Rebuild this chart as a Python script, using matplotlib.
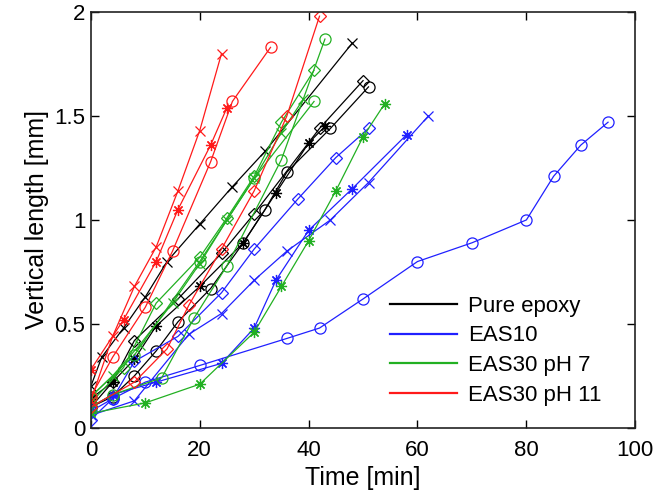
import matplotlib
matplotlib.use("Agg")
import matplotlib.pyplot as plt
from matplotlib.lines import Line2D

# ── data (time in min, vertical length in mm) ──
# Pure epoxy
epoxy_x_t = [0, 2, 6, 10, 14, 20, 26, 32, 48]
epoxy_x_v = [0.20, 0.34, 0.48, 0.63, 0.80, 0.98, 1.16, 1.33, 1.85]
epoxy_star_t = [0, 4, 8, 12, 20, 28, 34, 40, 43]
epoxy_star_v = [0.14, 0.22, 0.33, 0.49, 0.68, 0.89, 1.13, 1.37, 1.45]
epoxy_dia_t = [0, 4, 8, 16, 24, 30, 42, 50]
epoxy_dia_v = [0.10, 0.22, 0.42, 0.62, 0.84, 1.03, 1.44, 1.67]
epoxy_o_t = [0, 4, 8, 12, 16, 22, 28, 32, 36, 44, 51]
epoxy_o_v = [0.10, 0.15, 0.25, 0.37, 0.51, 0.67, 0.89, 1.05, 1.23, 1.44, 1.64]

# EAS10
eas10_o_t = [0, 4, 10, 20, 36, 42, 50, 60, 70, 80, 85, 90, 95]
eas10_o_v = [0.08, 0.14, 0.22, 0.30, 0.43, 0.48, 0.62, 0.80, 0.89, 1.00, 1.21, 1.36, 1.47]
eas10_dia_t = [0, 4, 8, 16, 24, 30, 38, 45, 51]
eas10_dia_v = [0.04, 0.14, 0.32, 0.44, 0.65, 0.86, 1.10, 1.30, 1.44]
eas10_x_t = [0, 8, 18, 24, 30, 36, 44, 51, 62]
eas10_x_v = [0.06, 0.13, 0.45, 0.55, 0.71, 0.85, 1.00, 1.18, 1.50]
eas10_star_t = [0, 4, 12, 24, 30, 34, 40, 48, 58]
eas10_star_v = [0.10, 0.16, 0.22, 0.31, 0.48, 0.71, 0.95, 1.15, 1.41]

# EAS30 pH 7
ph7_star_t = [0, 10, 20, 30, 35, 40, 45, 50, 54]
ph7_star_v = [0.07, 0.12, 0.21, 0.46, 0.68, 0.90, 1.14, 1.40, 1.56]
ph7_o1_t = [0, 4, 13, 19, 25, 35, 43]
ph7_o1_v = [0.10, 0.16, 0.24, 0.53, 0.78, 1.29, 1.87]
ph7_o2_t = [0, 8, 20, 30, 41]
ph7_o2_v = [0.15, 0.35, 0.80, 1.20, 1.57]
ph7_dia_t = [0, 6, 12, 20, 25, 30, 35, 41]
ph7_dia_v = [0.12, 0.29, 0.60, 0.82, 1.01, 1.21, 1.47, 1.72]
ph7_x_t = [0, 4, 9, 15, 20, 25, 30, 35, 39]
ph7_x_v = [0.15, 0.25, 0.40, 0.60, 0.79, 1.00, 1.20, 1.42, 1.58]

# EAS30 pH 11
ph11_x_t = [0, 4, 8, 12, 16, 20, 24]
ph11_x_v = [0.13, 0.44, 0.68, 0.87, 1.14, 1.43, 1.80]
ph11_star_t = [0, 6, 12, 16, 22, 25]
ph11_star_v = [0.28, 0.52, 0.80, 1.05, 1.36, 1.54]
ph11_o_t = [0, 4, 10, 15, 22, 26, 33]
ph11_o_v = [0.15, 0.34, 0.58, 0.85, 1.28, 1.57, 1.83]
ph11_dia_t = [0, 8, 14, 18, 24, 30, 36, 42]
ph11_dia_v = [0.10, 0.22, 0.38, 0.59, 0.86, 1.14, 1.50, 1.98]

labels = ["Pure epoxy", "EAS10", "EAS30 pH 7", "EAS30 pH 11"]
colors = ["#000000", "#2020ff", "#22b022", "#ff1a1a"]

ASTER = (8, 2, 0)
MS = {"x": 7, ASTER: 8, "o": 8, "D": 6}

series = [
    (0, "x", epoxy_x_t, epoxy_x_v),
    (0, ASTER, epoxy_star_t, epoxy_star_v),
    (0, "D", epoxy_dia_t, epoxy_dia_v),
    (0, "o", epoxy_o_t, epoxy_o_v),
    (1, "o", eas10_o_t, eas10_o_v),
    (1, "D", eas10_dia_t, eas10_dia_v),
    (1, "x", eas10_x_t, eas10_x_v),
    (1, ASTER, eas10_star_t, eas10_star_v),
    (2, ASTER, ph7_star_t, ph7_star_v),
    (2, "o", ph7_o1_t, ph7_o1_v),
    (2, "o", ph7_o2_t, ph7_o2_v),
    (2, "D", ph7_dia_t, ph7_dia_v),
    (2, "x", ph7_x_t, ph7_x_v),
    (3, "x", ph11_x_t, ph11_x_v),
    (3, ASTER, ph11_star_t, ph11_star_v),
    (3, "o", ph11_o_t, ph11_o_v),
    (3, "D", ph11_dia_t, ph11_dia_v),
]

plt.rcParams.update({
    "font.family": ["Liberation Sans", "DejaVu Sans"],
    "font.size": 16,
})

fig = plt.figure(figsize=(6.68, 5.01), dpi=100)
ax = fig.add_axes([0.136, 0.146, 0.815, 0.830])

for k, m, t, v in series:
    ax.plot(t, v, color=colors[k], lw=0.9, marker=m, ms=MS[m],
            mfc="none", mec=colors[k], mew=0.9)

ax.set_xlim(0, 100)
ax.set_ylim(0, 2)
ax.set_xticks([0, 20, 40, 60, 80, 100])
ax.set_yticks([0, 0.5, 1, 1.5, 2])
ax.set_yticklabels(["0", "0.5", "1", "1.5", "2"])
ax.tick_params(direction="in", top=True, right=True, length=6, width=1,
               labelsize=16, pad=4)
ax.tick_params(axis="x", pad=9)
for s in ax.spines.values():
    s.set_linewidth(1.2)
    s.set_color("#222222")

ax.set_xlabel("Time [min]", fontsize=18, labelpad=3)
ax.set_ylabel("Vertical length [mm]", fontsize=18, labelpad=4)

handles = [Line2D([], [], color=c, lw=1.6) for c in colors]
ax.legend(handles, labels, loc="lower right", bbox_to_anchor=(0.975, 0.005),
          frameon=False, fontsize=16, handlelength=3.0, handletextpad=0.5,
          labelspacing=0.39)

fig.savefig("out.png", dpi=100)
